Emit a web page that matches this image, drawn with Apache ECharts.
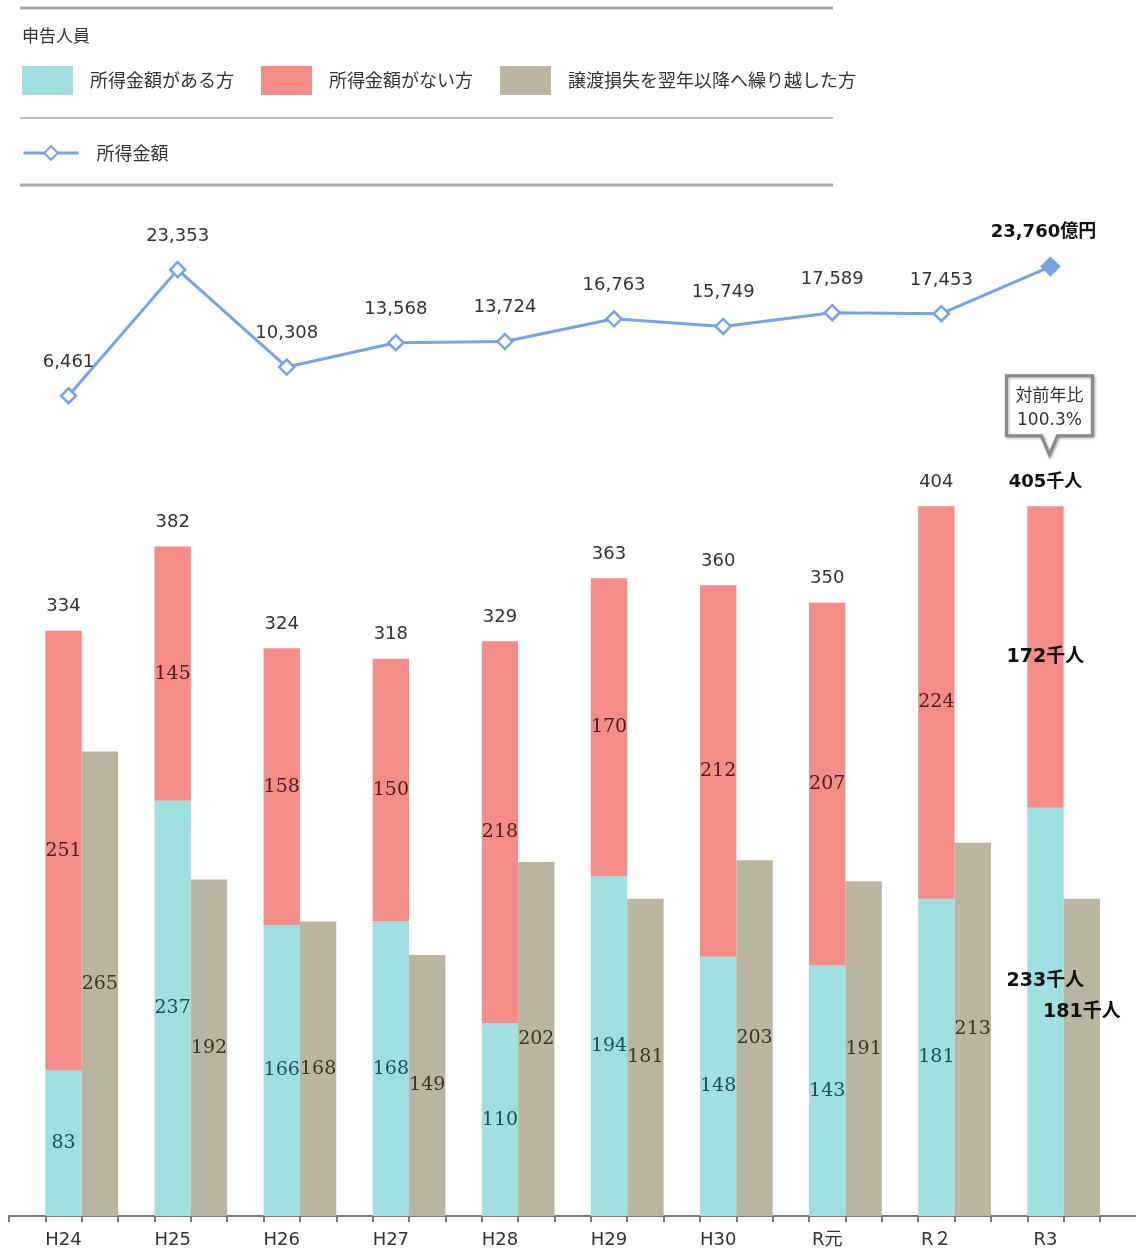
<!DOCTYPE html>
<html>
<head>
<meta charset="utf-8">
<script src="https://cdn.jsdelivr.net/npm/echarts@6/dist/echarts.min.js"></script>
<style>
html,body{margin:0;padding:0;background:#fff;}
#main{width:1136px;height:1252px;}
</style>
</head>
<body>
<div id="main"></div>
<script>
// ---- data ----
const categories = ['H24','H25','H26','H27','H28','H29','H30','R元','R２','R3'];
const withIncome = [83,237,166,168,110,194,148,143,181,233];
const withoutIncome = [251,145,158,150,218,170,212,207,224,172];
const carriedLoss = [265,192,168,149,202,181,203,191,213,181];
const totals = [334,382,324,318,329,363,360,350,404,405];
const incomeAmount = [6461,23353,10308,13568,13724,16763,15749,17589,17453,23760];
const yoyText = '対前年比\n100.3%';

const seriesNames = ['所得金額がある方','所得金額がない方','譲渡損失を翌年以降へ繰り越した方'];
const lineName = '所得金額';

const C_CYAN = '#9fdfe0', C_PINK = '#f48c88', C_GRAY = '#b9b5a0', C_LINE = '#78a3e3';
const NUM_FONT = 'DejaVu Sans, Noto Sans CJK JP, sans-serif';
const JP_FONT = 'Noto Sans CJK JP, sans-serif';
const SERIF = 'DejaVu Serif, serif';

const fmt = v => v.toLocaleString('en-US');
const last = categories.length - 1;

const slotCats = [];
categories.forEach((c,i)=>{ slotCats.push('a'+i,'b'+i,'c'+i); });

const chart = echarts.init(document.getElementById('main'), null, {renderer:'canvas'});

const option = {
  animation:false,
  backgroundColor:'#fff',
  graphic:[
    {type:'line', shape:{x1:20,y1:8,x2:833,y2:8}, style:{stroke:'#a8a8a8', lineWidth:3}},
    {type:'line', shape:{x1:20,y1:118,x2:833,y2:118}, style:{stroke:'#bdbdbd', lineWidth:2}},
    {type:'line', shape:{x1:20,y1:185,x2:833,y2:185}, style:{stroke:'#a8a8a8', lineWidth:3}},
    {type:'text', left:22, top:27, style:{text:'申告人員', font:'17px "Noto Sans CJK JP"', fill:'#333'}},
    {type:'line', shape:{x1:1100,y1:1216,x2:1136,y2:1216}, style:{stroke:'#777', lineWidth:2}}
  ],
  legend:[
    {
      data:seriesNames.map(n=>({name:n, icon:'rect'})),
      left:17, top:61, orient:'horizontal',
      itemWidth:51, itemHeight:29, itemGap:27,
      textStyle:{fontFamily:JP_FONT, fontSize:18, color:'#333', padding:[0,0,0,12]},
      selectedMode:false
    },
    {
      data:[{name:lineName}],
      left:17, top:139,
      itemWidth:55, itemHeight:17,
      lineStyle:{width:3},
      textStyle:{fontFamily:JP_FONT, fontSize:18, color:'#333', padding:[0,0,0,13]},
      selectedMode:false
    }
  ],
  grid:[
    {left:14, width:1091, top:220, height:224, containLabel:false},
    {left:9, width:1091, top:480, bottom:36, containLabel:false}
  ],
  xAxis:[
    {gridIndex:0, type:'category', data:categories, boundaryGap:true, show:false},
    {gridIndex:1, type:'category', data:categories, boundaryGap:true,
      axisLine:{show:false}, axisTick:{show:false},
      axisLabel:{fontFamily:NUM_FONT, fontSize:18, color:'#333', margin:15}},
    {gridIndex:1, type:'category', data:slotCats, boundaryGap:true, position:'bottom',
      axisLine:{show:true, lineStyle:{color:'#777', width:2}},
      axisTick:{show:true, interval:0, length:6, lineStyle:{color:'#777', width:2}},
      axisLabel:{show:false}}
  ],
  yAxis:[
    {gridIndex:0, type:'value', min:0, max:30000, show:false, splitLine:{show:false}},
    {gridIndex:1, type:'value', min:0, max:420, show:false, splitLine:{show:false}}
  ],
  series:[
    {
      name:lineName, type:'line', xAxisIndex:0, yAxisIndex:0,
      data:incomeAmount.map((v,i)=> i===last ? {
        value:v, symbolSize:17,
        itemStyle:{color:C_LINE, borderColor:C_LINE},
        label:{formatter:fmt(v)+'億円', fontWeight:'bold', color:'#111', offset:[-7,0]}
      } : v),
      symbol:'diamond', symbolSize:15, showAllSymbol:true,
      lineStyle:{color:C_LINE, width:3},
      itemStyle:{color:'#fff', borderColor:C_LINE, borderWidth:2.5},
      label:{show:true, position:'top', distance:16, fontFamily:NUM_FONT, fontSize:18, color:'#333',
        formatter:p=>fmt(p.value)}
    },
    {
      name:'_pad', type:'bar', xAxisIndex:1, yAxisIndex:1,
      data:categories.map(()=>0), silent:true, itemStyle:{color:'transparent'},
      barGap:'0%', barCategoryGap:'0%'
    },
    {
      name:seriesNames[0], type:'bar', stack:'p', xAxisIndex:1, yAxisIndex:1,
      data:withIncome.map((v,i)=> i===last ? {
        value:v,
        label:{formatter:v+'千人', fontFamily:NUM_FONT, fontWeight:'bold', color:'#111', offset:[0,-31]}
      } : v),
      itemStyle:{color:C_CYAN},
      barGap:'0%', barCategoryGap:'0%',
      label:{show:true, position:'inside', fontFamily:SERIF, fontSize:19, color:'#1d4d55'}
    },
    {
      name:seriesNames[1], type:'bar', stack:'p', xAxisIndex:1, yAxisIndex:1,
      data:withoutIncome.map((v,i)=> i===last ? {
        value:v,
        label:{formatter:v+'千人', fontFamily:NUM_FONT, fontWeight:'bold', color:'#111'}
      } : v),
      itemStyle:{color:C_PINK},
      barGap:'0%', barCategoryGap:'0%',
      label:{show:true, position:'inside', fontFamily:SERIF, fontSize:19, color:'#4e1d1d'}
    },
    {
      name:'_total', type:'bar', stack:'p', xAxisIndex:1, yAxisIndex:1,
      data:totals.map(()=>0), silent:true,
      itemStyle:{color:'transparent'},
      barGap:'0%', barCategoryGap:'0%',
      label:{show:true, position:'top', distance:15, fontFamily:NUM_FONT, fontSize:18,
        rich:{b:{fontFamily:NUM_FONT, fontSize:18, fontWeight:'bold', color:'#111'}},
        color:'#333',
        formatter:p=> p.dataIndex===last ? '{b|'+totals[p.dataIndex]+'千人}' : String(totals[p.dataIndex])},
      markPoint:{
        silent:true,
        data:[{
          coord:[last, totals[last]],
          symbol:'path://M0,0 L86,0 L86,60 L51,60 L43,79 L35,60 L0,60 Z',
          symbolSize:[86,79], symbolOffset:[4,-91],
          itemStyle:{color:'#fff', borderColor:'#8a8a8a', borderWidth:3,
            shadowBlur:3, shadowColor:'rgba(0,0,0,0.3)', shadowOffsetX:1, shadowOffsetY:1},
          label:{show:true, position:'inside', formatter:yoyText, offset:[0,-7],
            fontFamily:NUM_FONT, fontSize:17, lineHeight:24, color:'#333'}
        }]
      }
    },
    {
      name:seriesNames[2], type:'bar', xAxisIndex:1, yAxisIndex:1,
      data:carriedLoss.map((v,i)=> i===last ? {
        value:v,
        label:{formatter:v+'千人', fontFamily:NUM_FONT, fontWeight:'bold', color:'#111', offset:[0,-45]}
      } : v),
      itemStyle:{color:C_GRAY},
      barGap:'0%', barCategoryGap:'0%',
      label:{show:true, position:'inside', fontFamily:SERIF, fontSize:19, color:'#3b3424'}
    }
  ]
};
chart.setOption(option);
</script>
</body>
</html>
